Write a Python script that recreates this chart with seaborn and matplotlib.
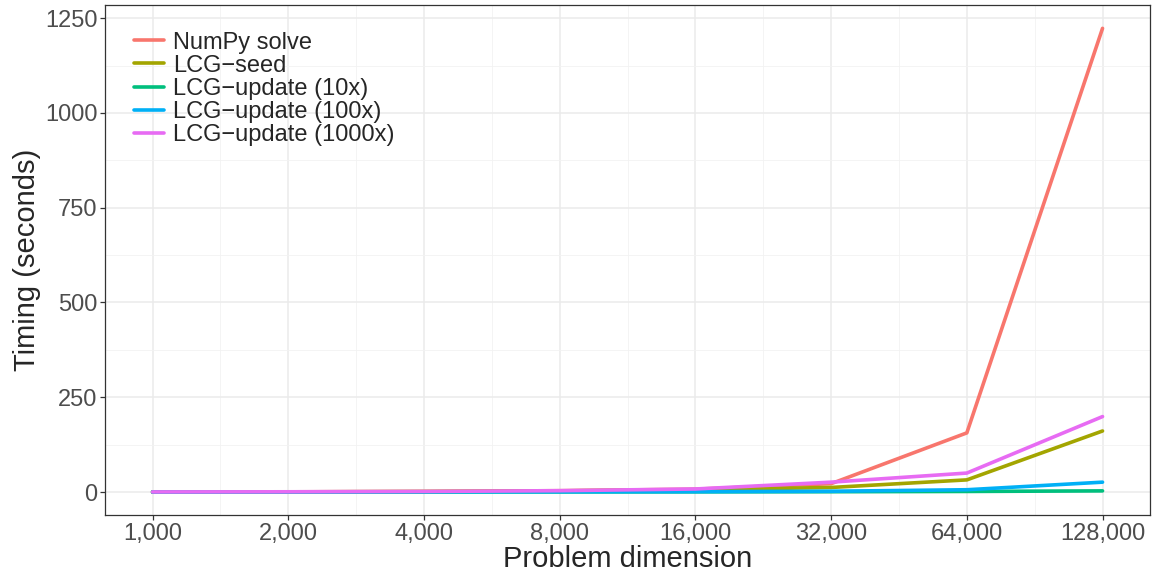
import matplotlib
matplotlib.use("Agg")
import matplotlib.pyplot as plt
import numpy as np
import pandas as pd
import seaborn as sns

# ---------------------------------------------------------------------------
# Data
# ---------------------------------------------------------------------------
dimensions = [1000, 2000, 4000, 8000, 16000, 32000, 64000, 128000]
numpy_solve = [0.1, 0.5, 1.5, 3.5, 7.5, 22, 156, 1223]
lcg_seed = [0.1, 0.4, 1.2, 3, 6, 12, 32, 161]
lcg_update_10 = [0.0, 0.1, 0.2, 0.3, 0.5, 0.8, 1.5, 3]
lcg_update_100 = [0.0, 0.1, 0.3, 0.6, 1.0, 2.0, 6, 26]
lcg_update_1000 = [0.2, 0.6, 1.5, 3.5, 8, 26, 50, 199]

series_names = ["NumPy solve", "LCG\u2212seed", "LCG\u2212update (10x)",
                "LCG\u2212update (100x)", "LCG\u2212update (1000x)"]
series_values = [numpy_solve, lcg_seed, lcg_update_10, lcg_update_100, lcg_update_1000]
palette = ["#F8766D", "#A3A500", "#00BF7D", "#00B0F6", "#E76BF3"]

x_tick_labels = ["1,000", "2,000", "4,000", "8,000", "16,000", "32,000", "64,000", "128,000"]
y_ticks = [0, 250, 500, 750, 1000, 1250]

df = pd.DataFrame(
    [(d, v, name) for name, vals in zip(series_names, series_values)
     for d, v in zip(dimensions, vals)],
    columns=["dimension", "timing", "method"],
)

# ---------------------------------------------------------------------------
# Plot
# ---------------------------------------------------------------------------
sns.set_style("white")
plt.rcParams["font.family"] = ["Liberation Sans", "DejaVu Sans"]

fig, ax = plt.subplots(figsize=(11.55, 5.75), dpi=100)
fig.subplots_adjust(left=0.091, right=0.9957, top=0.991, bottom=0.104)

sns.lineplot(data=df, x="dimension", y="timing", hue="method",
             hue_order=series_names, palette=palette, linewidth=2.6,
             ax=ax, zorder=3)

ax.set_xscale("log", base=2)
lo, hi = np.log2(dimensions[0]), np.log2(dimensions[-1])
pad = 0.05 * (hi - lo)
ax.set_xlim(2 ** (lo - pad), 2 ** (hi + pad))
ax.set_xticks(dimensions)
ax.set_xticklabels(x_tick_labels)
ax.set_xticks([2 ** (np.log2(d) + 0.5) for d in dimensions[:-1]], minor=True)
ax.xaxis.set_minor_formatter(matplotlib.ticker.NullFormatter())

ymax = max(numpy_solve)
ax.set_ylim(-0.05 * ymax, ymax * 1.05)
ax.set_yticks(y_ticks)
ax.set_yticks([125, 375, 625, 875, 1125], minor=True)

ax.grid(which="major", color="#EBEBEB", linewidth=1.1, zorder=0)
ax.grid(which="minor", color="#F2F2F2", linewidth=0.6, zorder=0)
ax.set_axisbelow(True)

for spine in ax.spines.values():
    spine.set_color("#333333")
    spine.set_linewidth(0.9)

ax.tick_params(which="major", axis="both", direction="out", length=3.5,
               width=0.9, color="#333333", labelsize=17, labelcolor="#4D4D4D",
               pad=2, left=True, bottom=True)
ax.tick_params(which="minor", length=0)

ax.set_xlabel("Problem dimension", fontsize=21, labelpad=0)
ax.set_ylabel("Timing (seconds)", fontsize=21, labelpad=3)

leg = ax.legend(title=None, frameon=False, loc="upper left",
                bbox_to_anchor=(0.007, 0.99), fontsize=17,
                handlelength=1.3, handletextpad=0.35, labelspacing=0.05,
                borderaxespad=0.5)
for line in leg.get_lines():
    line.set_linewidth(2.6)

fig.savefig("out.png", dpi=100)
